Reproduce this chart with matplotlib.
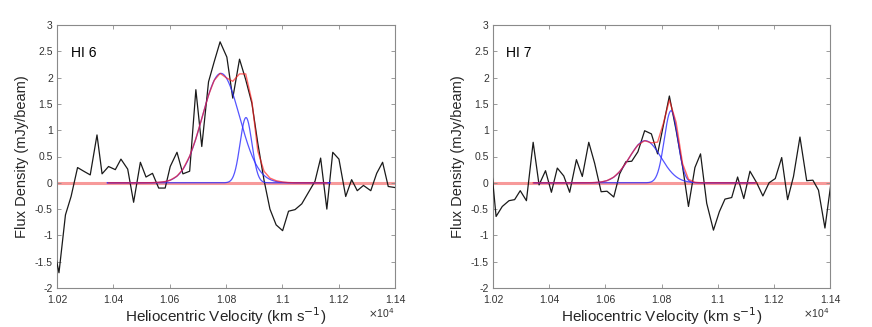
import numpy as np
import matplotlib
matplotlib.use("Agg")
import matplotlib.pyplot as plt
from matplotlib.ticker import FuncFormatter

plt.rcParams['font.family'] = ['Liberation Sans', 'DejaVu Sans']

# ---- HI 6 spectrum (velocity km/s, flux mJy/beam) ----
v6 = [10186, 10207, 10230, 10250, 10273, 10295, 10318, 10342, 10360, 10383,
      10407, 10427, 10451, 10472, 10496, 10516, 10539, 10561, 10584, 10602,
      10626, 10647, 10671, 10693, 10714, 10738, 10758, 10779, 10803, 10824,
      10848, 10870, 10892, 10913, 10935, 10956, 10978, 11001, 11022, 11045,
      11069, 11093, 11116, 11136, 11158, 11179, 11201, 11225, 11246, 11266,
      11288, 11314, 11335, 11356, 11376, 11400]
f6 = [-1.15, -1.71, -0.61, -0.26, 0.29, 0.22, 0.15, 0.91, 0.17, 0.31,
      0.25, 0.45, 0.26, -0.37, 0.39, 0.11, 0.18, -0.10, -0.10, 0.31,
      0.58, 0.17, 0.22, 1.77, 0.69, 1.92, 2.30, 2.68, 2.39, 1.61,
      2.35, 1.96, 1.51, 0.75, 0.05, -0.50, -0.80, -0.91, -0.54, -0.51,
      -0.40, -0.18, 0.03, 0.47, -0.50, 0.58, 0.45, -0.26, 0.06, -0.15,
      -0.05, -0.15, 0.18, 0.39, -0.07, -0.09]
# total fit of HI 6 (red), read at channel velocities
vfit6 = [10383, 10407, 10427, 10451, 10472, 10496, 10516, 10539, 10561, 10584,
         10602, 10626, 10647, 10671, 10693, 10714, 10738, 10758, 10779, 10803,
         10824, 10848, 10870, 10892, 10913, 10935, 10956, 10978, 11001, 11022,
         11045, 11069, 11093, 11116, 11136, 11158]
ffit6 = [0.0, 0.0, 0.0, 0.0, 0.0, 0.0, 0.001, 0.003, 0.01, 0.023,
         0.05, 0.127, 0.257, 0.506, 0.838, 1.223, 1.666, 1.947, 2.08, 1.99,
         1.93, 2.07, 2.07, 1.55, 0.60, 0.22, 0.09, 0.04, 0.015, 0.005,
         0.0, 0.0, 0.0, 0.0, 0.0, 0.0]

# ---- HI 7 spectrum ----
v7 = [10189, 10211, 10233, 10257, 10277, 10297, 10319, 10343, 10364, 10387,
      10408, 10429, 10452, 10473, 10497, 10518, 10541, 10562, 10585, 10606,
      10630, 10651, 10673, 10694, 10716, 10740, 10764, 10786, 10807, 10828,
      10852, 10875, 10896, 10919, 10939, 10961, 10985, 11006, 11026, 11050,
      11071, 11093, 11115, 11139, 11161, 11183, 11205, 11228, 11249, 11270,
      11293, 11317, 11339, 11359, 11382, 11404]
f7 = [0.60, -0.64, -0.45, -0.34, -0.32, -0.15, -0.34, 0.77, -0.04, 0.23,
      -0.18, 0.28, 0.13, -0.18, 0.44, 0.12, 0.77, 0.37, -0.17, -0.16,
      -0.27, 0.17, 0.40, 0.41, 0.59, 0.99, 0.93, 0.55, 1.10, 1.65,
      1.00, 0.31, -0.45, 0.29, 0.55, -0.39, -0.90, -0.55, -0.31, -0.28,
      0.11, -0.30, 0.22, 0.00, -0.25, 0.00, 0.08, 0.48, -0.32, 0.12,
      0.87, 0.04, 0.05, -0.14, -0.86, 0.02]

# ---- Gaussian fit components: amplitude, centre, sigma ----
amp6 = [2.08, 1.24]
cen6 = [10782, 10871]
sig6 = [66, 21]
fitrange6 = [10379, 11169]

amp7 = [0.80, 1.37]
cen7 = [10742, 10834]
sig7 = [56, 24]
fitrange7 = [10346, 11133]

labels = ["HI 6", "HI 7"]
xticks = [10200, 10400, 10600, 10800, 11000, 11200, 11400]
yticks = [-2, -1.5, -1, -0.5, 0, 0.5, 1, 1.5, 2, 2.5, 3]

W, H = 872, 327
fig = plt.figure(figsize=(W / 100, H / 100), dpi=100)

axes_px = [(57, 25, 338, 263), (493, 25, 337, 263)]


def gauss(x, a, c, s):
    return a * np.exp(-(x - c) ** 2 / (2.0 * s ** 2))


def fmt(v, pos):
    return '%g' % round(v / 1e4, 4)


def yfmt(v, pos):
    return '%g' % v


edge = '#8a8a8a'
panels = [(v6, f6, amp6, cen6, sig6, fitrange6),
          (v7, f7, amp7, cen7, sig7, fitrange7)]

for i, ((x0, y0, w, h), lab, (v, f, amp, cen, sig, fr)) in enumerate(
        zip(axes_px, labels, panels)):
    ax = fig.add_axes([x0 / W, 1 - (y0 + h) / H, w / W, h / H])
    v = np.asarray(v, float)
    f = np.asarray(f, float)
    # zero baseline
    ax.plot([10200, 11400], [0, 0], color='#f79a9a', lw=2.2, zorder=1,
            solid_capstyle='butt')
    # spectrum
    ax.plot(v, f, color='#1a1a1a', lw=0.9, zorder=3)
    # individual components
    xs = np.linspace(fr[0], fr[1], 600)
    for a, c, s in zip(amp, cen, sig):
        ax.plot(xs, gauss(xs, a, c, s), color='#2a2aff', lw=0.9, alpha=0.8,
                zorder=4)
    # total fit
    if i == 0:
        vt = np.asarray(vfit6, float)
        tot = np.asarray(ffit6, float)
    else:
        m = (v >= fr[0] - 15) & (v <= fr[1] + 15)
        vt = v[m]
        tot = sum(gauss(vt, a, c, s) for a, c, s in zip(amp, cen, sig))
    ax.plot(vt, tot, color='#ff1a1a', lw=1.0, alpha=0.65, zorder=5)

    ax.set_xlim(10200, 11400)
    ax.set_ylim(-2, 3)
    ax.set_xticks(xticks)
    ax.set_yticks(yticks)
    ax.xaxis.set_major_formatter(FuncFormatter(fmt))
    ax.yaxis.set_major_formatter(FuncFormatter(yfmt))
    ax.tick_params(direction='in', top=True, right=True, length=3,
                   width=0.6, color=edge, labelsize=7.5, labelcolor='#333333')
    ax.tick_params(axis='x', pad=5)
    ax.tick_params(axis='y', pad=3)
    for sp in ax.spines.values():
        sp.set_color(edge)
        sp.set_linewidth(0.8)
    ax.set_xlabel('Heliocentric Velocity (km s$^{-1}$)', fontsize=11,
                  color='#262626', labelpad=0.5)
    ax.set_ylabel('Flux Density (mJy/beam)', fontsize=10.5, color='#262626',
                  labelpad=4)
    ax.text(0.04, 0.895, lab, transform=ax.transAxes, fontsize=10,
            va='center', ha='left', color='black')
    ax.text(1.0, -0.097, r'$\times$10$^{4}$', transform=ax.transAxes,
            fontsize=7.5, ha='right', va='center', color='#333333')

fig.savefig('out.png', dpi=100)
